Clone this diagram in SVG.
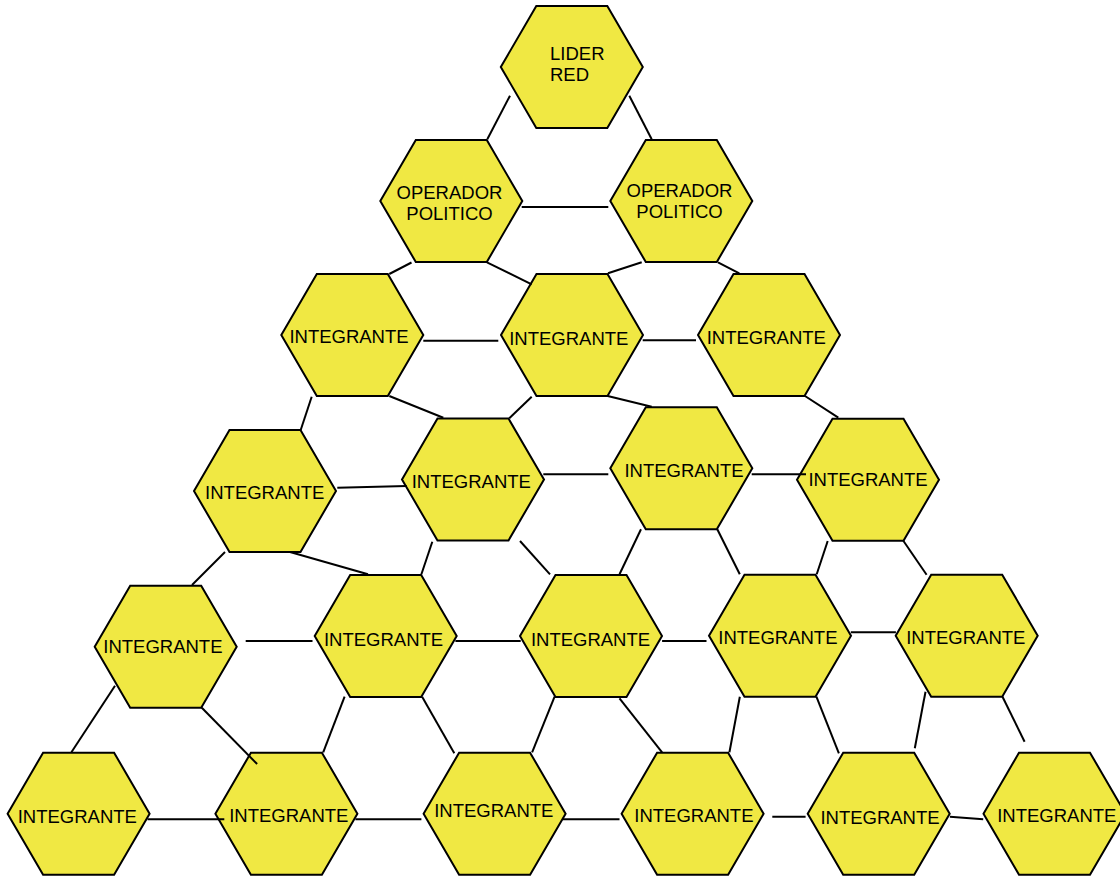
<svg xmlns="http://www.w3.org/2000/svg" xmlns:xlink="http://www.w3.org/1999/xlink" width="1120" height="878" viewBox="0 0 1120 878">
<style>
.hex{fill:#f0e843;stroke:#000;stroke-width:2;stroke-linejoin:miter}
.t{font-family:"Liberation Sans",Arial,sans-serif;font-size:18.5px;fill:#000;text-anchor:middle}
.tl{text-anchor:start}
.c line{stroke:#000;stroke-width:2;stroke-linecap:butt}
</style>
<defs>
<polygon id="hx" class="hex" points="-71,0 -35.5,-61 35.5,-61 71,0 35.5,61 -35.5,61"/>
</defs>
<rect width="1120" height="878" fill="#fff"/>
<g id="lider"><use href="#hx" x="571.8" y="67"/><text class="t tl" x="550" y="59.5">LIDER</text><text class="t tl" x="550" y="80.5">RED</text></g>
<g id="op1"><use href="#hx" x="451.3" y="201"/><text class="t" x="449.5" y="199.3">OPERADOR</text><text class="t" x="449.5" y="220">POLITICO</text></g>
<g id="op2"><use href="#hx" x="681.3" y="201"/><text class="t" x="679.5" y="196.7">OPERADOR</text><text class="t" x="679.5" y="217.7">POLITICO</text></g>
<g id="r3a"><use href="#hx" x="352.3" y="335"/><text class="t" x="349" y="342.7">INTEGRANTE</text></g>
<g id="r3b"><use href="#hx" x="572" y="335"/><text class="t" x="568.8" y="345">INTEGRANTE</text></g>
<g id="r3c"><use href="#hx" x="769" y="335"/><text class="t" x="766.3" y="344">INTEGRANTE</text></g>
<g id="r4a"><use href="#hx" x="265" y="491"/><text class="t" x="264.7" y="498.7">INTEGRANTE</text></g>
<g id="r4b"><use href="#hx" x="473" y="479.5"/><text class="t" x="471.3" y="488.3">INTEGRANTE</text></g>
<g id="r4c"><use href="#hx" x="681.3" y="468.3"/><text class="t" x="684" y="477.3">INTEGRANTE</text></g>
<g id="r4d"><use href="#hx" x="868" y="479.7"/><text class="t" x="868" y="486">INTEGRANTE</text></g>
<g id="r5a"><use href="#hx" x="165.7" y="646.7"/><text class="t" x="162.9" y="652.7">INTEGRANTE</text></g>
<g id="r5b"><use href="#hx" x="385.7" y="636"/><text class="t" x="383.6" y="646">INTEGRANTE</text></g>
<g id="r5c"><use href="#hx" x="591" y="636"/><text class="t" x="590.5" y="646">INTEGRANTE</text></g>
<g id="r5d"><use href="#hx" x="780" y="635.7"/><text class="t" x="777.9" y="644">INTEGRANTE</text></g>
<g id="r5e"><use href="#hx" x="966.7" y="635.7"/><text class="t" x="965.8" y="644">INTEGRANTE</text></g>
<g id="r6a"><use href="#hx" x="78.6" y="813.7"/><text class="t" x="77.3" y="823.3">INTEGRANTE</text></g>
<g id="r6b"><use href="#hx" x="286.4" y="813.7"/><text class="t" x="288.8" y="821.7">INTEGRANTE</text></g>
<g id="r6c"><use href="#hx" x="494.6" y="813.7"/><text class="t" x="493.8" y="817.3">INTEGRANTE</text></g>
<g id="r6d"><use href="#hx" x="692.6" y="813.7"/><text class="t" x="693.9" y="821.7">INTEGRANTE</text></g>
<g id="r6e"><use href="#hx" x="878.7" y="813.7"/><text class="t" x="880" y="824">INTEGRANTE</text></g>
<g id="r6f"><use href="#hx" x="1054.5" y="813.7"/><text class="t" x="1056.8" y="821.7">INTEGRANTE</text></g>
<g id="connectors" class="c">
<line x1="510" y1="95.7" x2="487.3" y2="139.3"/>
<line x1="629.3" y1="95.7" x2="651.7" y2="139.3"/>
<line x1="521.7" y1="207" x2="608.3" y2="207"/>
<line x1="389.3" y1="274" x2="411.5" y2="262.5"/>
<line x1="487" y1="262.3" x2="531.7" y2="284.3"/>
<line x1="608" y1="273.3" x2="641.7" y2="262.3"/>
<line x1="718" y1="262.3" x2="739.3" y2="273.3"/>
<line x1="423.3" y1="340.7" x2="498.3" y2="340.7"/>
<line x1="642.7" y1="340.3" x2="696" y2="340.3"/>
<line x1="311.7" y1="396.7" x2="300.7" y2="430"/>
<line x1="389.3" y1="396" x2="443.3" y2="417.7"/>
<line x1="531.7" y1="396.7" x2="509.3" y2="418.3"/>
<line x1="607.7" y1="396" x2="651.7" y2="406.7"/>
<line x1="805" y1="396" x2="838.3" y2="417.7"/>
<line x1="337.3" y1="487.7" x2="406.7" y2="486"/>
<line x1="543.3" y1="474.3" x2="608.3" y2="474.3"/>
<line x1="751.7" y1="474.3" x2="806" y2="474.3"/>
<line x1="225" y1="552" x2="192" y2="585"/>
<line x1="290" y1="552" x2="368" y2="574.3"/>
<line x1="432.3" y1="541.7" x2="421.4" y2="574.3"/>
<line x1="520" y1="541" x2="550" y2="574.3"/>
<line x1="641" y1="529.3" x2="619.5" y2="574.3"/>
<line x1="717.3" y1="529.3" x2="739.8" y2="574.3"/>
<line x1="827.7" y1="541" x2="816.7" y2="574.3"/>
<line x1="903.3" y1="540.7" x2="926.6" y2="574.7"/>
<line x1="245.7" y1="641" x2="312.5" y2="641"/>
<line x1="455.4" y1="641" x2="520.7" y2="641"/>
<line x1="662.1" y1="641" x2="706.5" y2="641"/>
<line x1="850.8" y1="632.3" x2="895.9" y2="632.3"/>
<line x1="115" y1="685.7" x2="71.4" y2="752.3"/>
<line x1="201.8" y1="707.7" x2="257.1" y2="764"/>
<line x1="344.6" y1="696.7" x2="323.2" y2="752.3"/>
<line x1="422.1" y1="696.7" x2="454.3" y2="753.3"/>
<line x1="554.6" y1="696.7" x2="532.1" y2="752.3"/>
<line x1="619.5" y1="698.3" x2="662.1" y2="752.3"/>
<line x1="739.8" y1="696.7" x2="729.4" y2="752.3"/>
<line x1="816.4" y1="696.7" x2="838.9" y2="753.3"/>
<line x1="925.5" y1="691.7" x2="914.8" y2="748.3"/>
<line x1="1002.5" y1="696.7" x2="1024.6" y2="741.7"/>
<line x1="147.5" y1="819.3" x2="224.3" y2="819.3"/>
<line x1="355.4" y1="819.3" x2="421.4" y2="819.3"/>
<line x1="562.9" y1="819.3" x2="619.5" y2="819.3"/>
<line x1="772.3" y1="816.7" x2="805.6" y2="816.7"/>
<line x1="949.9" y1="816.7" x2="983.2" y2="819.3"/>
</g>
</svg>
